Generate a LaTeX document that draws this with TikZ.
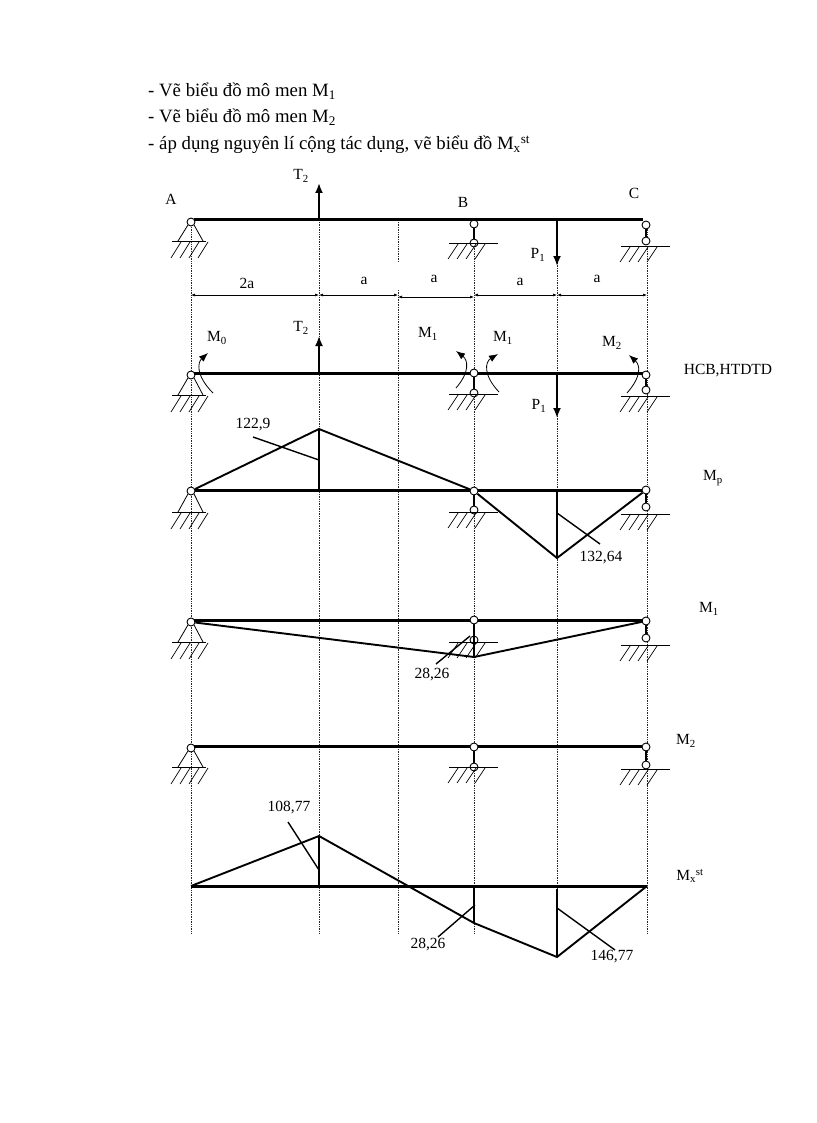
\documentclass[tikz,border=0pt]{standalone}
\usepackage{fontspec}
\setmainfont{Liberation Serif}
\usetikzlibrary{arrows.meta}
\tikzset{
  beam/.style={line width=3pt},
  diagram/.style={line width=1.9pt},
  leader/.style={line width=1.4pt},
  guide/.style={densely dotted, line width=0.7pt, black!85},
  dimline/.style={{Latex[length=4pt,width=3pt]}-{Latex[length=4pt,width=3pt]}, line width=0.6pt},
  force/.style={-{Latex[length=10pt,width=8pt]}, line width=1.9pt},
  moment/.style={-{Latex[length=9pt,width=7pt]}, line width=0.8pt},
  hinge/.style={circle, draw, fill=white, line width=0.9pt, inner sep=0pt, minimum size=8pt},
  lbl/.style={font=\fontsize{15.5}{17}\selectfont, inner sep=0pt},
  headline/.style={font=\fontsize{18.8}{20}\selectfont, inner sep=0pt, anchor=base west}
}
% ground line with hatching
\newcommand{\groundline}[4]{%
  \draw[line width=0.8pt] (#1,#3) -- (#2,#3);
  \foreach \h in {0,9,18,27}
    \draw[line width=0.7pt] ({#1+9+\h},#3+1) -- ({#1-1+\h},#3+#4);
}
% fixed pin: name, x, y, ground
\newcommand{\pinsupport}[4]{%
  \node[hinge] (#1) at (#2,#3) {};
  \draw[line width=0.8pt] (#1.south west) -- (#2-13,#4);
  \draw[line width=0.8pt] (#1.south east) -- (#2+12,#4);
  \groundline{#2-19}{#2+15}{#4}{17}
}
% link support: name, x, y, lower y, ground
\newcommand{\linksupport}[5]{%
  \node[hinge] (#1) at (#2,#3) {};
  \node[hinge] (#1low) at (#2,#4) {};
  \draw[line width=1.2pt] (#1) -- (#1low);
  \groundline{#2-25}{#2+24}{#5}{16}
}
\begin{document}
\begin{tikzpicture}[x=1pt,y=-1pt]
  \useasboundingbox (0,0) rectangle (816,1123);

  % Task list
  \node[headline] (lineone) at (148,97) {- Vẽ biểu đồ mô men M\textsubscript{1}};
  \node[headline] (linetwo) at (148,123) {- Vẽ biểu đồ mô men M\textsubscript{2}};
  \node[headline] (linethree) at (148,150) {- áp dụng nguyên lí cộng tác dụng, vẽ biểu đồ M\textsubscript{x}\textsuperscript{st}};

  % Guides
  \foreach \gx in {191,319,474,557,647}
    \draw[guide] (\gx,222) -- (\gx,933);
  \draw[guide] (398,222) -- (398,262);
  \draw[guide] (398,290) -- (398,933);

  % Beam with loads
  \coordinate (Tone) at (319,220);
  \coordinate (Tonetip) at (319,183);
  \coordinate (Pone) at (557,220);
  \coordinate (Ponetip) at (557,266);
  \pinsupport{Aone}{191}{222}{241}
  \linksupport{Bone}{474}{224}{243}{243}
  \linksupport{Cone}{646}{225}{241}{246}
  \draw[beam] (Aone.north east |- Tone) -- (Cone.north west |- Tone);
  \draw[force] (Tone) -- (Tonetip);
  \draw[force] (Pone) -- (Ponetip);
  \node[lbl] (labA) at (171,199) {A};
  \node[lbl] (labB) at (463,202) {B};
  \node[lbl] (labC) at (634,193) {C};
  \node[lbl] (labT) at (301,176) {T\textsubscript{2}};
  \node[lbl] (labP) at (538,255) {P\textsubscript{1}};

  % Spans: 2a, a, a, a, a
  \draw[dimline] (191,295) -- (319,295);
  \draw[dimline] (319,295) -- (398,295);
  \draw[dimline] (398,297) -- (474,297);
  \draw[dimline] (474,295) -- (557,295);
  \draw[dimline] (557,295) -- (647,295);
  \node[lbl] (spana) at (247,283) {2a};
  \node[lbl] (spanb) at (364,281) {a};
  \node[lbl] (spanc) at (434,279) {a};
  \node[lbl] (spand) at (520,282) {a};
  \node[lbl] (spane) at (597,279) {a};

  % Released system
  \coordinate (Ttwo) at (319,373);
  \coordinate (Ttwotip) at (319,336);
  \coordinate (Ptwo) at (557,373);
  \coordinate (Ptwotip) at (557,418);
  \pinsupport{Atwo}{191}{375}{395}
  \linksupport{Btwo}{474}{373}{393}{394}
  \linksupport{Ctwo}{646}{375}{390}{396}
  \draw[beam] (Atwo.north east |- Ttwo) -- (Btwo.west |- Ttwo);
  \draw[beam] (Btwo.east |- Ttwo) -- (Ctwo.north west |- Ttwo);
  \draw[force] (Ttwo) -- (Ttwotip);
  \draw[force] (Ptwo) -- (Ptwotip);
  \draw[moment] (213,393) .. controls (195,375) and (198,362) .. (208,353);
  \draw[moment] (456,388) .. controls (470,372) and (468,360) .. (456,351);
  \draw[moment] (499,392) .. controls (483,375) and (485,362) .. (498,354);
  \draw[moment] (627,393) .. controls (642,376) and (640,365) .. (629,355);
  \node[lbl] (labTtwo) at (301,328) {T\textsubscript{2}};
  \node[lbl] (labPtwo) at (539,406) {P\textsubscript{1}};
  \node[lbl] (labMo) at (217,338) {M\textsubscript{0}};
  \node[lbl] (labMa) at (428,334) {M\textsubscript{1}};
  \node[lbl] (labMb) at (503,338) {M\textsubscript{1}};
  \node[lbl] (labMc) at (612,343) {M\textsubscript{2}};
  \node[lbl] (labHcb) at (728,371) {HCB,HTDTD};

  % Diagram Mp
  \coordinate (mpfoot) at (319,490);
  \coordinate (mpbase) at (557,490);
  \coordinate (mppeak) at (319,429);
  \coordinate (mplow) at (557,558);
  \pinsupport{Amp}{191}{491}{512}
  \linksupport{Bmp}{474}{491}{510}{512}
  \linksupport{Cmp}{646}{490}{507}{514}
  \draw[beam] (Amp.east |- mpfoot) -- (Bmp.west |- mpfoot);
  \draw[beam] (Bmp.east |- mpfoot) -- (Cmp.west |- mpfoot);
  \draw[diagram] (Amp) -- (mppeak) -- (Bmp) -- (mplow) -- (Cmp);
  \draw[diagram] (mppeak) -- (mpfoot);
  \draw[diagram] (mpbase) -- (mplow);
  \node[lbl] (valmpa) at (253,425) {122,9};
  \node[lbl] (valmpb) at (601,558) {132,64};
  \node[lbl] (labMp) at (713,478) {M\textsubscript{p}};
  \coordinate (mpleada) at (253,437);
  \coordinate (mpleadb) at (319,460);
  \coordinate (mpleadc) at (557,513);
  \coordinate (mpleadd) at (600,544);
  \draw[leader] (mpleada) -- (mpleadb);
  \draw[leader] (mpleadc) -- (mpleadd);

  % Diagram M1
  \coordinate (mlbase) at (319,620);
  \coordinate (mllow) at (474,657);
  \pinsupport{Aml}{191}{622}{642}
  \linksupport{Bml}{474}{620}{640}{642}
  \linksupport{Cml}{646}{621}{638}{645}
  \draw[beam] (Aml.north east |- mlbase) -- (Bml.west |- mlbase);
  \draw[beam] (Bml.east |- mlbase) -- (Cml.north west |- mlbase);
  \draw[diagram] (Aml) -- (mllow) -- (Cml);
  \draw[diagram] (Bml) -- (mllow);
  \coordinate (mlleada) at (470,636);
  \coordinate (mlleadb) at (436,664);
  \draw[leader] (mlleada) -- (mlleadb);
  \node[lbl] (valml) at (432,675) {28,26};
  \node[lbl] (labMl) at (709,609) {M\textsubscript{1}};

  % Diagram M2
  \coordinate (mmbase) at (319,746);
  \pinsupport{Amm}{191}{748}{767}
  \linksupport{Bmm}{474}{747}{767}{767}
  \linksupport{Cmm}{646}{747}{765}{769}
  \draw[beam] (Amm.north east |- mmbase) -- (Bmm.west |- mmbase);
  \draw[beam] (Bmm.east |- mmbase) -- (Cmm.west |- mmbase);
  \node[lbl] (labMm) at (686,741) {M\textsubscript{2}};

  % Diagram Mx
  \coordinate (mxa) at (191,886);
  \coordinate (mxe) at (647,886);
  \coordinate (mxpeak) at (319,836);
  \coordinate (mxfoot) at (319,886);
  \coordinate (mxb) at (474,923);
  \coordinate (mxbtop) at (474,886);
  \coordinate (mxlow) at (557,957);
  \coordinate (mxltop) at (557,889);
  \draw[beam] (mxa) -- (mxe);
  \draw[diagram] (mxa) -- (mxpeak) -- (mxb) -- (mxlow) -- (mxe);
  \draw[diagram] (mxpeak) -- (mxfoot);
  \draw[diagram] (mxbtop) -- (mxb);
  \draw[diagram] (mxltop) -- (mxlow);
  \node[lbl] (valmxa) at (289,808) {108,77};
  \node[lbl] (valmxb) at (428,945) {28,26};
  \node[lbl] (valmxc) at (612,957) {146,77};
  \node[lbl] (labMx) at (690,876) {M\textsubscript{x}\textsuperscript{st}};
  \coordinate (mxleada) at (288,822);
  \coordinate (mxleadb) at (319,870);
  \coordinate (mxleadc) at (475,905);
  \coordinate (mxleadd) at (438,937);
  \coordinate (mxleade) at (557,908);
  \coordinate (mxleadf) at (615,950);
  \draw[leader] (mxleada) -- (mxleadb);
  \draw[leader] (mxleadc) -- (mxleadd);
  \draw[leader] (mxleade) -- (mxleadf);
\end{tikzpicture}
\end{document}
